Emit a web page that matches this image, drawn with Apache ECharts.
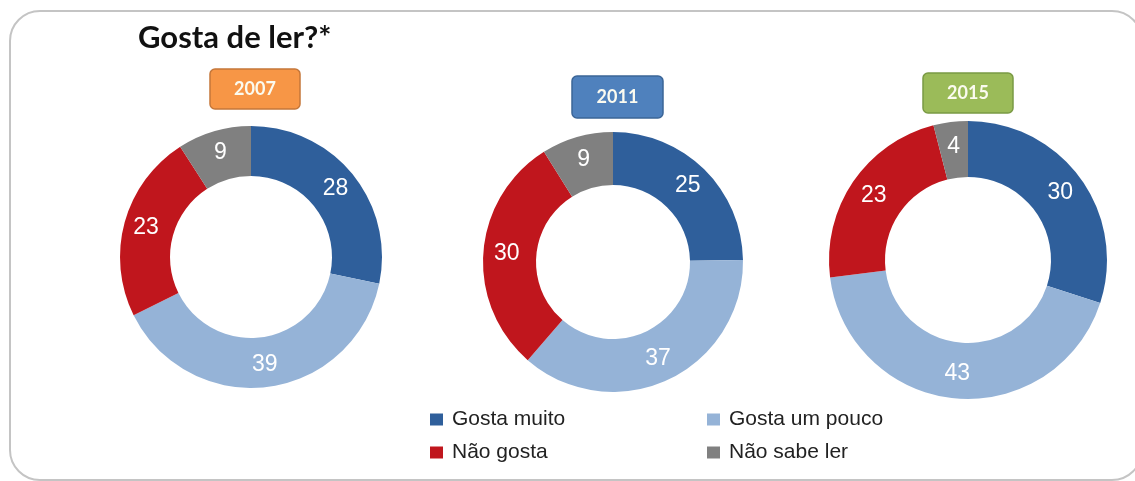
<!DOCTYPE html>
<html>
<head>
<meta charset="utf-8">
<script src="https://cdn.jsdelivr.net/npm/echarts@6/dist/echarts.min.js"></script>
<style>
  html, body { margin: 0; padding: 0; background: #ffffff; }
  #chart { width: 1135px; height: 481px; }
</style>
</head>
<body>
<div id="chart"></div>
<script>
// Survey answers, in percent, per edition
const categories = ['Gosta muito', 'Gosta um pouco', 'Não gosta', 'Não sabe ler'];
const years = ['2007', '2011', '2015'];
const values2007 = [28, 39, 23, 9];
const values2011 = [25, 37, 30, 9];
const values2015 = [30, 43, 23, 4];
const titleText = 'Gosta de ler?*';

const sliceColors = ['#2f5f9b', '#95b3d7', '#c0161d', '#808080'];
const yearBoxFill = ['#f79646', '#4f81bd', '#9bbb59'];
const yearBoxStroke = ['#c5773a', '#3b6597', '#7a9a44'];

// Layout of each donut: centre, radii and the year badge above it
const layout = [
  { center: [251, 257], radius: [81, 131], box: [210, 69, 90, 40] },
  { center: [613, 262], radius: [77, 130], box: [572, 76, 91, 42] },
  { center: [968, 260], radius: [83, 139], box: [923, 73, 90, 40] }
];
const seriesValues = [values2007, values2011, values2015];

const chart = echarts.init(document.getElementById('chart'), null, { renderer: 'canvas' });

const series = years.map((y, i) => ({
  type: 'pie',
  name: y,
  center: layout[i].center,
  radius: layout[i].radius,
  startAngle: 90,
  clockwise: true,
  avoidLabelOverlap: false,
  silent: true,
  itemStyle: { borderWidth: 0 },
  label: {
    show: true,
    position: 'inside',
    formatter: '{c}',
    color: '#ffffff',
    fontSize: 23,
    fontFamily: 'Liberation Sans, Arial, sans-serif'
  },
  labelLine: { show: false },
  data: categories.map((c, k) => ({
    name: c,
    value: seriesValues[i][k],
    itemStyle: { color: sliceColors[k] }
  }))
}));

const badges = years.map((y, i) => {
  const [x, yy, w, h] = layout[i].box;
  return {
    type: 'group',
    children: [
      {
        type: 'rect',
        shape: { x: x, y: yy, width: w, height: h, r: 5 },
        style: { fill: yearBoxFill[i], stroke: yearBoxStroke[i], lineWidth: 1.5 }
      },
      {
        type: 'text',
        x: x + w / 2,
        y: yy + h / 2,
        style: {
          text: y,
          fill: '#fbfbf0',
          font: 'bold 18px Lato, sans-serif',
          align: 'center',
          verticalAlign: 'middle'
        }
      }
    ]
  };
});

const legendText = {
  fontSize: 21,
  color: '#222222',
  fontFamily: 'Liberation Sans, Arial, sans-serif',
  padding: [0, 0, 0, 4]
};

chart.setOption({
  backgroundColor: '#ffffff',
  animation: false,
  legend: [
    {
      orient: 'vertical',
      left: 430,
      top: 409,
      padding: 0,
      itemGap: 12,
      icon: 'rect',
      itemWidth: 13,
      itemHeight: 12,
      selectedMode: false,
      textStyle: legendText,
      data: [categories[0], categories[2]]
    },
    {
      orient: 'vertical',
      left: 707,
      top: 409,
      padding: 0,
      itemGap: 12,
      icon: 'rect',
      itemWidth: 13,
      itemHeight: 12,
      selectedMode: false,
      textStyle: legendText,
      data: [categories[1], categories[3]]
    }
  ],
  graphic: [
    {
      type: 'rect',
      z: -10,
      shape: { x: 10, y: 11, width: 1132, height: 469, r: 30 },
      style: { fill: 'none', stroke: '#c4c4c4', lineWidth: 2 }
    },
    {
      type: 'text',
      x: 138,
      y: 38,
      style: {
        text: titleText,
        fill: '#111111',
        font: 'bold 31px Lato, sans-serif',
        verticalAlign: 'middle'
      }
    }
  ].concat(badges),
  series: series
});
</script>
</body>
</html>
